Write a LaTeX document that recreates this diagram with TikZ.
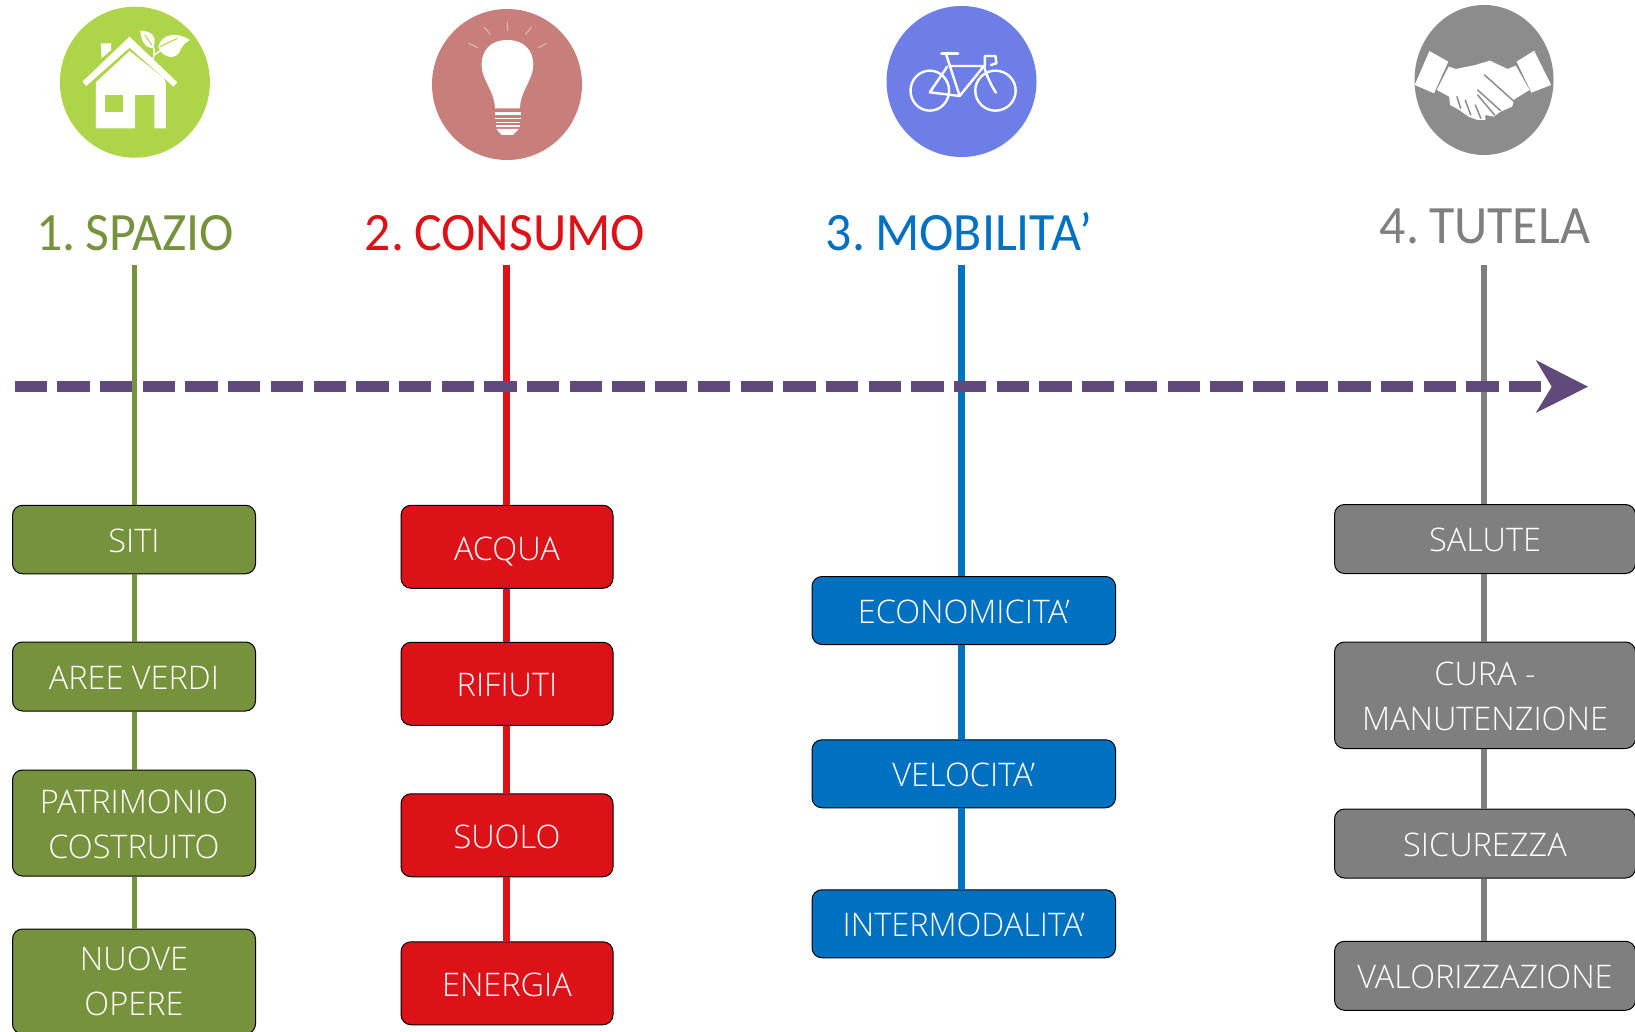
\documentclass[tikz,border=0pt]{standalone}
\usepackage{fontspec}
\setmainfont[Kerning=Off]{Open Sans Light}
\newfontfamily\headfont[FakeStretch=0.96]{Carlito}
\definecolor{cgreen}{HTML}{76923C}
\definecolor{cred}{HTML}{DD1118}
\definecolor{cblue}{HTML}{0070C0}
\definecolor{cgray}{HTML}{7F7F7F}
\definecolor{cpurple}{HTML}{604A7B}
\definecolor{igreen}{HTML}{AED44A}
\definecolor{ired}{HTML}{C87F7B}
\definecolor{iblue}{HTML}{6D7FE6}
\definecolor{igray}{HTML}{8C8C8C}
\newcommand{\low}{\rule{0pt}{26.2pt}}
\newcommand{\lowq}{\rule{0pt}{33pt}}
\tikzset{
  itembox/.style={draw=black,line width=1pt,rounded corners=10pt,inner sep=0pt,align=center,text=white,
    font=\fontsize{32.5}{45}\selectfont},
  headlabel/.style={inner sep=0pt,font=\headfont\fontsize{54}{58}\selectfont},
  spine/.style={line width=5.5pt},
}
\begin{document}
\begin{tikzpicture}[x=1pt,y=-1pt]
\useasboundingbox (0,0) rectangle (1635,1032);
\clip (0,0) rectangle (1635,1032);
% badges
\fill[igreen] (134.9,82.2) ellipse [x radius=75,y radius=75.5];
\fill[ired] (507,84.5) ellipse [x radius=75,y radius=75.5];
\fill[iblue] (961.5,81.5) ellipse [x radius=75,y radius=75.5];
\fill[igray] (1484,80) ellipse [x radius=69.5,y radius=75];
% house icon
\begin{scope}[shift={(30pt,0pt)},x=0.3827pt,y=-0.3333pt]
\fill[white] (137,245) -- (260,110) -- (385,247) -- (375,260) -- (260,143) -- (147,258) -- cycle;
\fill[white] (185,130) -- (212,130) -- (212,150) -- (187,175) -- cycle;
\fill[white] (172,247) -- (260,153) -- (312,200) -- (350,235) -- (355,250) -- (355,385) -- (325,385) -- (325,285) -- (275,285) -- (275,385) -- (172,385) -- cycle;
\fill[igreen] (195,285) rectangle (243,335);
\fill[white] (288,92) .. controls (320,92) and (335,115) .. (320,145) .. controls (295,140) and (290,115) .. (288,92) -- cycle;
\fill[white] (418,120) .. controls (385,95) and (345,100) .. (335,140) .. controls (345,175) and (385,185) .. (395,145) .. controls (400,135) and (410,125) .. (418,120) -- cycle;
\draw[white,line width=1.5pt] (318,190) .. controls (325,170) and (325,155) .. (323,140);
\draw[white,line width=1.5pt] (325,165) .. controls (340,150) and (355,145) .. (372,128);
\draw[igreen,line width=1pt] (300,105) -- (318,135);
\draw[igreen,line width=1pt] (340,140) -- (385,115);
\end{scope}
% bulb icon
\begin{scope}[shift={(30pt,0pt)},x=0.3827pt,y=-0.3333pt]
\fill[white] (1247,120) .. controls (1290,120) and (1315,150) .. (1315,195)
  .. controls (1315,240) and (1282,270) .. (1280,325) -- (1215,325)
  .. controls (1213,270) and (1180,240) .. (1180,195)
  .. controls (1180,150) and (1205,120) .. (1247,120) -- cycle;
\fill[white] (1215,336) rectangle (1282,345);
\fill[white] (1215,353) rectangle (1282,358);
\fill[white] (1217,365) rectangle (1281,369);
\fill[white] (1217,376) rectangle (1280,380);
\fill[white] (1219,387) -- (1277,387) -- (1262,405) -- (1232,405) -- cycle;
\draw[white,line width=1pt,opacity=.45] (1247,65) -- (1247,92);
\draw[white,line width=1pt,opacity=.45] (1187,82) -- (1203,104);
\draw[white,line width=1pt,opacity=.45] (1310,82) -- (1294,104);
\draw[white,line width=1pt,opacity=.45] (1146,130) -- (1170,143);
\draw[white,line width=1pt,opacity=.45] (1350,130) -- (1328,143);
\end{scope}
% bicycle icon
\begin{scope}[shift={(860pt,0pt)},x=0.4592pt,y=-0.3333pt,white,line width=2.4pt,line cap=round,line join=round]
\draw (152,272) ellipse [x radius=42,y radius=60];
\draw (295,272) ellipse [x radius=44,y radius=60];
\draw[line width=3.5pt] (178,160) -- (213,160);
\draw (188,165) -- (217,288) -- (270,198) -- (195,198);
\draw (217,288) -- (152,277) -- (190,200);
\draw (270,198) .. controls (275,225) and (285,255) .. (296,278);
\draw (272,198) -- (272,168) -- (295,168) -- (297,190) -- (285,195);
\end{scope}
% handshake icon
\begin{scope}[shift={(860pt,0pt)},x=0.4592pt,y=-0.3333pt]
\fill[white] (1240,153) -- (1281,185) -- (1250,280) -- (1208,255) -- cycle;
\fill[white] (1468,152) -- (1430,185) -- (1462,278) -- (1505,255) -- cycle;
\fill[white] (1282,200) -- (1298,207) -- (1340,195) -- (1372,182) -- (1410,207) -- (1428,197) -- (1458,270) -- (1425,298) -- (1420,320) -- (1395,335) -- (1380,350) -- (1362,345) -- (1362,360) -- (1345,360) -- (1325,350) -- (1305,330) -- (1285,315) -- (1283,290) -- (1256,270) -- cycle;
\begin{scope}[igray,line width=1.5pt,line cap=round]
\draw (1360,225) -- (1425,305);
\draw (1345,270) -- (1395,332);
\draw (1345,285) -- (1382,345);
\draw (1300,290) -- (1308,325);
\draw (1318,300) -- (1330,345);
\draw (1340,315) -- (1352,355);
\end{scope}
\end{scope}
% headers
\node[headlabel,text=cgreen] (hspazio) at (135,233.5) {1.\hspace{10pt}SPAZIO};
\node[headlabel,text=cred] (hconsumo) at (505,233.5) {2.\hspace{10pt}CONSUMO};
\node[headlabel,text=cblue] (hmobilita) at (959,231.5) {3.\hspace{10pt}MOBILITA’};
\node[headlabel,text=cgray] (htutela) at (1485,226.5) {4.\hspace{10pt}TUTELA};
% spine start points
\coordinate (tspazio) at (134.5,265);
\coordinate (tconsumo) at (506.3,265);
\coordinate (tmobilita) at (961.5,265);
\coordinate (ttutela) at (1484,265);
% boxes
\begin{scope}[every node/.append style={itembox}]
\node[fill=cgreen,minimum width=243pt,minimum height=68.5pt] (siti) at (134,539.5) {\low SITI};
\node[fill=cgreen,minimum width=243pt,minimum height=69pt] (aree) at (134,676.5) {\low AREE VERDI};
\node[fill=cgreen,minimum width=243pt,minimum height=106pt] (patrimonio) at (134,823) {\low PATRIMONIO\\COSTRUITO};
\node[fill=cgreen,minimum width=243pt,minimum height=105pt] (nuove) at (134,981.5) {NUOVE\\OPERE};
\end{scope}
\begin{scope}[every node/.append style={itembox,fill=cred,minimum width=212pt,minimum height=83pt}]
\node (acqua) at (507,546.75) {\lowq ACQUA};
\node (rifiuti) at (507,683.75) {\low RIFIUTI};
\node (suolo) at (507,835.25) {\low SUOLO};
\node (energia) at (507,983.25) {\low ENERGIA};
\end{scope}
\begin{scope}[every node/.append style={itembox,fill=cblue,minimum width=303.5pt,minimum height=68pt}]
\node (econ) at (963.75,610.5) {\low ECONOMICITA’};
\node (velocita) at (963.75,773.75) {\low VELOCITA’};
\node (inter) at (963.75,923.75) {\low INTERMODALITA’};
\end{scope}
\begin{scope}[every node/.append style={itembox,fill=cgray,minimum width=301pt}]
\node[minimum height=69pt] (salute) at (1485,539) {\low SALUTE};
\node[minimum height=106.5pt] (cura) at (1485,695.25) {\low CURA -\\MANUTENZIONE};
\node[minimum height=69pt] (sicurezza) at (1485,843.5) {\low SICUREZZA};
\node[minimum height=69pt] (valor) at (1485,975.75) {\low VALORIZZAZIONE};
\end{scope}
% connectors
\draw[spine,cgreen] (tspazio) -- (tspazio |- siti.north);
\draw[spine,cgreen] (tspazio |- siti.south) -- (tspazio |- aree.north);
\draw[spine,cgreen] (tspazio |- aree.south) -- (tspazio |- patrimonio.north);
\draw[spine,cgreen] (tspazio |- patrimonio.south) -- (tspazio |- nuove.north);
\draw[spine,cred,line width=6.8pt] (tconsumo) -- (tconsumo |- acqua.north);
\draw[spine,cred,line width=6.8pt] (tconsumo |- acqua.south) -- (tconsumo |- rifiuti.north);
\draw[spine,cred,line width=6.8pt] (tconsumo |- rifiuti.south) -- (tconsumo |- suolo.north);
\draw[spine,cred,line width=6.8pt] (tconsumo |- suolo.south) -- (tconsumo |- energia.north);
\draw[spine,cblue,line width=6.3pt] (tmobilita) -- (tmobilita |- econ.north);
\draw[spine,cblue,line width=6.3pt] (tmobilita |- econ.south) -- (tmobilita |- velocita.north);
\draw[spine,cblue,line width=6.3pt] (tmobilita |- velocita.south) -- (tmobilita |- inter.north);
\draw[spine,cgray] (ttutela) -- (ttutela |- salute.north);
\draw[spine,cgray] (ttutela |- salute.south) -- (ttutela |- cura.north);
\draw[spine,cgray] (ttutela |- cura.south) -- (ttutela |- sicurezza.north);
\draw[spine,cgray] (ttutela |- sicurezza.south) -- (ttutela |- valor.north);
% dashed axis with arrowhead
\coordinate (axisstart) at (14.6,386.7);
\coordinate (axisend) at (1548,386.7);
\draw[cpurple,line width=11.5pt,dash pattern=on 32.3pt off 10.4pt] (axisstart) -- (axisend);
\fill[cpurple] (1588,386.7) -- (1535.7,360) -- (1551.7,386.7) -- (1535.7,413) -- cycle;
\end{tikzpicture}
\end{document}
